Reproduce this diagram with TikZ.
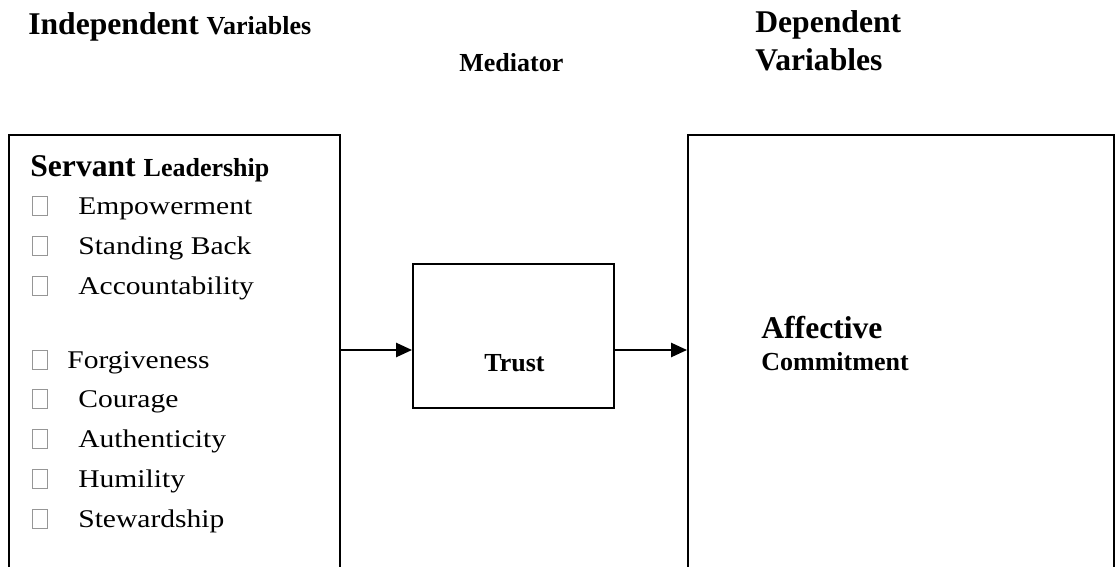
\documentclass[tikz,border=0pt]{standalone}
\usepackage{fontspec}
\setmainfont{Liberation Serif}
\newfontfamily\itemfont{Liberation Serif}[FakeStretch=1.16]
\usetikzlibrary{arrows.meta}
\definecolor{boxgray}{RGB}{150, 150, 150}
\newcommand{\headbig}{\fontsize{18}{21}\selectfont\bfseries}
\newcommand{\headsmall}{\fontsize{14.8}{17}\selectfont\bfseries}
\newcommand{\itemsize}{\fontsize{14.5}{17}\selectfont\itemfont}

\begin{document}
\begin{tikzpicture}[x=0.02cm, y=-0.02cm,
        txt/.style     = {anchor=base west, inner sep=0pt},
        bigbox/.style  = {draw, line width=1.1pt, anchor=north west, inner sep=0pt, minimum height=10cm},
        trustbox/.style= {draw, line width=0.9pt, anchor=north west, inner sep=0pt, minimum width=4.02cm, minimum height=2.88cm},
        chkbox/.style  = {draw=boxgray, line width=0.4pt, anchor=south west, inner sep=0pt, minimum width=0.3cm, minimum height=0.38cm},
        flow/.style    = {line width=1.1pt, -{Triangle[length=9pt, width=8pt]}}]
            \useasboundingbox (0,0) rectangle (1120,567);
            \clip             (0,0) rectangle (1120,567);
            % column headings
            \node[txt] (indephead) at ( 28, 35) {\headbig Independent \headsmall Variables};
            \node[txt] (medhead)   at (459, 72) {\headsmall Mediator};
            \node[txt] (dephead)   at (755, 33) {\headbig Dependent};
            \node[txt] (dephead2)  at (755, 71) {\headbig Variables};
            % boxes
            \node[bigbox, minimum width=6.62cm] (indep) at (  8,134) {};
            \node[bigbox, minimum width=8.52cm] (dep)   at (687,134) {};
            \node[trustbox]                     (trust) at (412,263) {};
            % texts in the boxes
            \node[txt] (servant) at ( 30,177) {\headbig Servant \headsmall Leadership};
            \node[txt] (trustlbl) at (484,372) {\headsmall Trust};
            \node[txt] (affect)  at (761,339) {\headbig Affective};
            \node[txt] (commit)  at (761,371) {\headsmall Commitment};
            \foreach \n/\y/\x/\lbl in {1/216/78/Empowerment, 2/256/78/Standing Back, 3/296/78/Accountability,
                                       4/370/67/Forgiveness, 5/409/78/Courage,      6/449/78/Authenticity,
                                       7/489/78/Humility,    8/529/78/Stewardship}{
                \node[chkbox] (chk\n)  at (32,\y) {};
                \node[txt]    (item\n) at (\x,\y-1) {\itemsize \lbl};
            }
            % connectors
            \coordinate (flowin) at (339,350);
            \draw[flow] (flowin) -- (flowin -| trust.west);
            \draw[flow] (flowin -| trust.east) -- (flowin -| dep.west);
        \end{tikzpicture}
\end{document}
